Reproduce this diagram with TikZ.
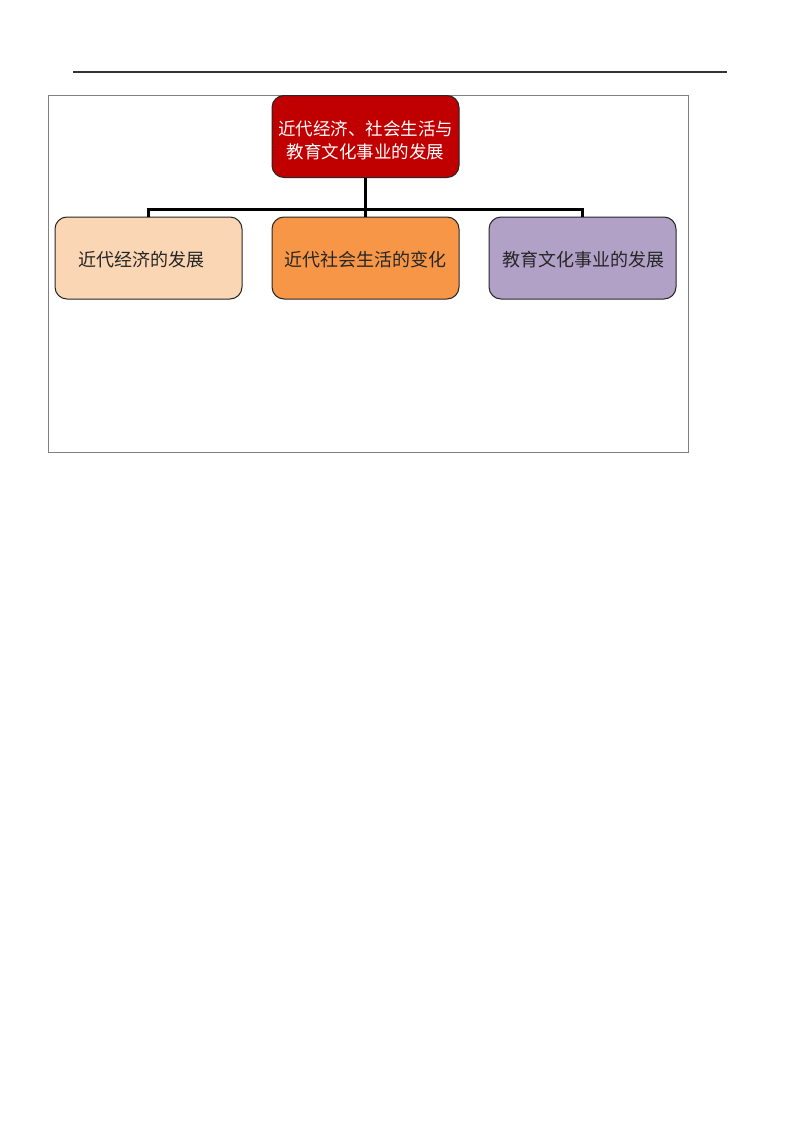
\documentclass[tikz,border=0pt]{standalone}
\usepackage{fontspec}
\newfontfamily\cjk{Noto Sans CJK SC}
\begin{document}
\begin{tikzpicture}[x=1pt,y=-1pt,
  box/.style={draw=black!85, line width=1pt, rounded corners=12pt, minimum width=187pt, minimum height=82pt, inner sep=0pt, align=center},
  lbl/.style={font=\cjk\fontsize{18}{23}\selectfont},
  conn/.style={line width=3pt, black}]
\useasboundingbox[fill=white] (0,0) rectangle (800,1132);
\draw[line width=1.5pt, black!80] (73,72) -- (727,72);
\draw[line width=0.8pt, black!50] (48,95) rectangle (688,452);
\node[box, fill={rgb,255:red,192;green,0;blue,0}] (top) at (365.5,136.5) {};
\node[font=\cjk\fontsize{17.5}{23}\selectfont, text=white, align=center] (toplbl) at (365.5,140.5) {近代经济、社会生活与\\教育文化事业的发展};
\node[box, fill={rgb,255:red,250;green,214;blue,180}] (a) at (148.5,258) {};
\node[lbl, text=black!85] (alb) at (141,259.5) {近代经济的发展};
\node[box, fill={rgb,255:red,247;green,150;blue,70}] (b) at (365.5,258) {};
\node[lbl, text=black!85] (blb) at (365.5,259.5) {近代社会生活的变化};
\node[box, fill={rgb,255:red,177;green,161;blue,199}] (c) at (582.5,258) {};
\node[lbl, text=black!85] (clb) at (583,259.5) {教育文化事业的发展};
\coordinate (j) at (365.5,209);
\draw[conn] (top.south) -- (j);
\draw[conn] (a.north) |- (j) -| (c.north);
\draw[conn] (j) -- (b.north);
\end{tikzpicture}
\end{document}
